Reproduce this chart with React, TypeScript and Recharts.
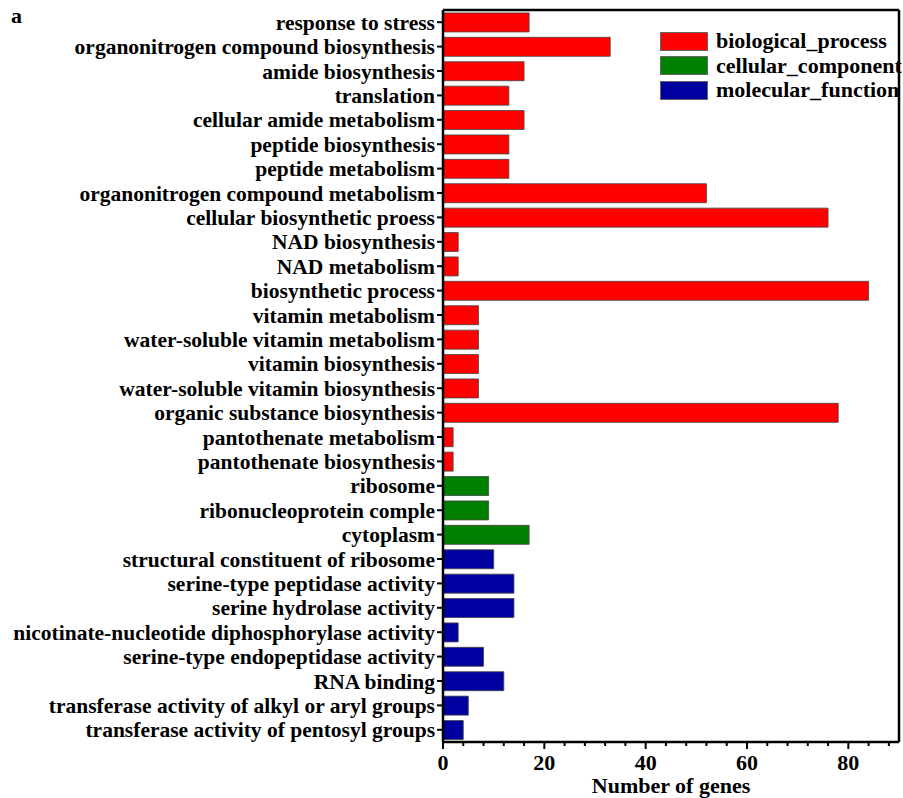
import { BarChart, Bar, XAxis, YAxis, Cell, Legend, ReferenceLine } from 'recharts'

const categories = [
  'response to stress',
  'organonitrogen compound biosynthesis',
  'amide biosynthesis',
  'translation',
  'cellular amide metabolism',
  'peptide biosynthesis',
  'peptide metabolism',
  'organonitrogen compound metabolism',
  'cellular biosynthetic proess',
  'NAD biosynthesis',
  'NAD metabolism',
  'biosynthetic process',
  'vitamin metabolism',
  'water-soluble vitamin metabolism',
  'vitamin biosynthesis',
  'water-soluble vitamin biosynthesis',
  'organic substance biosynthesis',
  'pantothenate metabolism',
  'pantothenate biosynthesis',
  'ribosome',
  'ribonucleoprotein comple',
  'cytoplasm',
  'structural constituent of ribosome',
  'serine-type peptidase activity',
  'serine hydrolase activity',
  'nicotinate-nucleotide diphosphorylase activity',
  'serine-type endopeptidase activity',
  'RNA binding',
  'transferase activity of alkyl or aryl groups',
  'transferase activity of pentosyl groups',
]

const geneCounts = [17, 33, 16, 13, 16, 13, 13, 52, 76, 3, 3, 84, 7, 7, 7, 7, 78, 2, 2, 9, 9, 17, 10, 14, 14, 3, 8, 12, 5, 4]

const groups = [
  'biological_process', 'biological_process', 'biological_process', 'biological_process',
  'biological_process', 'biological_process', 'biological_process', 'biological_process',
  'biological_process', 'biological_process', 'biological_process', 'biological_process',
  'biological_process', 'biological_process', 'biological_process', 'biological_process',
  'biological_process', 'biological_process', 'biological_process',
  'cellular_component', 'cellular_component', 'cellular_component',
  'molecular_function', 'molecular_function', 'molecular_function', 'molecular_function',
  'molecular_function', 'molecular_function', 'molecular_function', 'molecular_function',
]

const groupNames = ['biological_process', 'cellular_component', 'molecular_function']
const groupColors: Record<string, string> = {
  biological_process: '#FF0000',
  cellular_component: '#008000',
  molecular_function: '#0000A0',
}

const xTicks = [0, 4, 8, 12, 16, 20, 24, 28, 32, 36, 40, 44, 48, 52, 56, 60, 64, 68, 72, 76, 80, 84, 88]
const xLabelTicks = [0, 20, 40, 60, 80]
const X_MAX = 90

const FONT = '"Liberation Serif", "Times New Roman", serif'

const data = categories.map((name, i) => ({ name, value: geneCounts[i], group: groups[i] }))

// x ticks: long tick + label every 20, short tick otherwise
const XTick = (props: any) => {
  const { x, y, payload } = props
  const major = xLabelTicks.includes(payload.value)
  return (
    <g>
      <line x1={x} x2={x} y1={y} y2={y + (major ? 7 : 4)} stroke="#000" strokeWidth={2} />
      {major && (
        <text x={x} y={y + 28} textAnchor="middle" fontFamily={FONT} fontWeight="bold" fontSize={22} fill="#000">
          {payload.value}
        </text>
      )}
    </g>
  )
}

const LegendBox = () => (
  <div style={{ fontFamily: FONT, fontWeight: 'bold', fontSize: 22, color: '#000' }}>
    {groupNames.map((g) => (
      <div key={g} style={{ display: 'flex', alignItems: 'center', height: 24.5 }}>
        <div
          style={{
            width: 46,
            height: 17,
            background: groupColors[g],
            border: '1px solid #666',
            marginRight: 8,
            flexShrink: 0,
          }}
        />
        <span style={{ whiteSpace: 'nowrap' }}>{g}</span>
      </div>
    ))}
  </div>
)

export default function App() {
  return (
    <div style={{ position: 'absolute', left: 0, top: 0, width: 903, height: 798, background: '#fff' }}>
      <div
        style={{
          position: 'absolute',
          left: 11,
          top: 3,
          fontFamily: FONT,
          fontWeight: 'bold',
          fontSize: 22,
        }}
      >
        a
      </div>
      <BarChart
        width={903}
        height={798}
        data={data}
        layout="vertical"
        margin={{ top: 10, right: 4, bottom: 0, left: 0 }}
        barCategoryGap="12%"
      >
        <XAxis
          type="number"
          dataKey="value"
          domain={[0, X_MAX]}
          ticks={xTicks}
          interval={0}
          height={56}
          tick={<XTick />}
          tickLine={false}
          tickSize={0}
          tickMargin={0}
          axisLine={{ stroke: '#000', strokeWidth: 2.5 }}
          label={{
            value: 'Number of genes',
            position: 'insideBottom',
            offset: 5,
            style: { fontFamily: FONT, fontWeight: 'bold', fontSize: 22, fill: '#000' },
          }}
        />
        <YAxis
          type="category"
          dataKey="name"
          width={443}
          interval={0}
          tickSize={6}
          tickMargin={2}
          tickLine={{ stroke: '#000', strokeWidth: 2 }}
          axisLine={{ stroke: '#000', strokeWidth: 2.5 }}
          tick={{ fontFamily: FONT, fontWeight: 'bold', fontSize: 21.5, fill: '#000' }}
        />
        <Legend
          layout="vertical"
          align="center"
          verticalAlign="middle"
          content={<LegendBox />}
          wrapperStyle={{ position: 'absolute', left: 660, top: 29, width: 240 }}
        />
        <Bar dataKey="value" isAnimationActive={false} stroke="#444" strokeWidth={0.8}>
          {data.map((d, i) => (
            <Cell key={`cell-${i}`} fill={groupColors[d.group]} />
          ))}
        </Bar>
        {/* frame: top and right edges of the plot box */}
        <ReferenceLine y={categories[0]} position="start" stroke="#000" strokeWidth={2.5} ifOverflow="visible" />
        <ReferenceLine x={X_MAX} stroke="#000" strokeWidth={2.5} ifOverflow="visible" />
      </BarChart>
    </div>
  )
}
